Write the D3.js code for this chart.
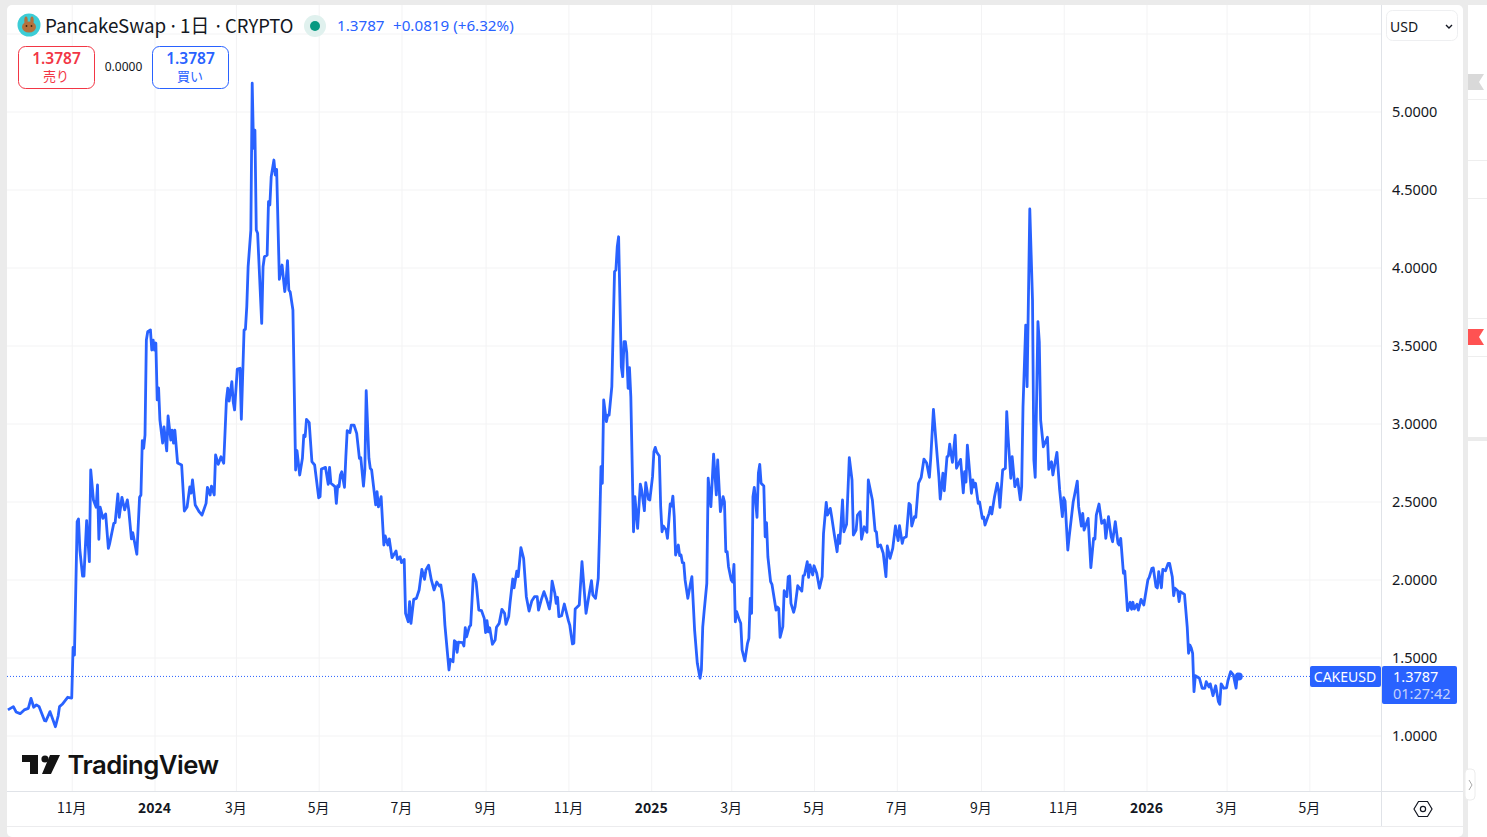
<!DOCTYPE html>
<html>
<head>
<meta charset="utf-8">
<title>CAKEUSD</title>
<script src="https://cdn.jsdelivr.net/npm/d3@7"></script>
<style>
  html, body { margin: 0; padding: 0; background: #fff; overflow: hidden; }
  text { font-family: "Noto Sans", "Noto Sans CJK JP", sans-serif; }
  .cjk { font-family: "Noto Sans CJK JP", sans-serif; }
  .domain { display: none; }
</style>
</head>
<body>
<div id="chart"></div>
<script>
// days counted from 2024-01-01
var priceDays = [
  -108,-104,-102,-99,-96,-93,-91,-89,-87,-85,
  -81,-80,-77,-73,-71,-70,-68,-64,-61,-60,
  -59,-57,-56,-55,-53,-52,-50,-48,-47,-45,
  -43,-42,-41,-40,-38,-36,-34,-33,-30,-29,
  -27,-26,-24,-22,-20,-19,-17,-16,-13,-11,
  -10,-9,-8,-7,-6,-5,-3,-2,-1,0,
  1,2,3,4,6,7,9,10,12,13,
  14,15,17,20,22,24,26,27,28,30,
  33,35,38,39,41,42,44,45,47,49,
  51,53,54,55,57,58,59,61,63,64,
  66,67,68,69,71,72,73,74,75,76,
  79,80,81,83,84,85,86,88,89,90,
  92,94,96,97,98,99,100,102,104,105,
  107,109,110,111,112,114,116,118,121,122,
  123,126,128,129,130,133,134,135,136,137,
  138,140,141,142,144,145,147,149,151,152,
  154,155,156,158,159,160,163,164,165,167,
  169,170,172,173,175,178,179,181,182,184,
  185,187,188,189,191,193,195,197,199,200,
  202,204,206,208,210,211,213,214,217,218,
  220,221,222,223,224,227,228,229,230,232,
  233,235,237,239,241,243,244,245,246,247,
  249,251,252,254,256,258,259,261,262,264,
  265,267,268,270,272,274,276,278,280,282,
  283,285,287,289,291,292,293,295,296,297,
  298,300,302,305,306,308,309,310,313,314,
  315,318,320,322,323,325,327,328,329,330,
  331,333,334,335,337,339,340,341,342,344,
  345,346,347,348,349,350,351,353,354,356,
  358,359,361,362,364,365,367,368,369,370,
  372,373,374,375,377,378,380,381,382,383,
  384,386,387,388,389,390,391,393,395,396,
  398,400,402,403,404,405,407,408,410,412,
  414,415,417,419,420,421,422,423,425,426,
  427,428,429,431,432,433,435,437,438,439,
  440,441,442,444,445,446,447,449,450,451,
  452,454,455,458,459,460,461,463,464,466,
  467,468,469,471,472,474,477,478,479,481,
  482,483,485,486,488,490,492,493,495,496,
  498,499,501,503,504,505,507,508,510,512,
  514,515,517,518,520,521,523,525,526,529,
  531,532,533,535,537,539,540,542,544,546,
  548,549,551,552,554,556,557,558,560,561,
  563,565,567,569,571,572,574,576,578,579,
  581,582,584,585,586,588,590,591,594,596,
  597,598,599,602,603,604,605,607,608,610,
  611,612,615,616,617,619,621,622,623,625,
  627,628,629,631,632,634,636,638,639,640,
  642,643,645,647,648,649,651,652,653,655,
  658,659,661,662,665,667,669,670,671,673,
  674,677,678,680,681,683,684,685,688,690,
  692,693,694,696,698,700,701,703,705,706,
  708,710,711,712,714,715,717,719,720,721,
  722,724,725,727,729,730,732,733,735,736,
  738,739,740,742,743,745,747,748,750,751,
  752,754,755,756,759,761,762,763,764,765,
  766,767,770,772,774,775,777,778,780,782,
  784,785,786,788,790,791,793,795,797,798,
  799
];

var priceCloses = [
  1.164,1.185,1.151,1.140,1.164,1.174,1.238,1.181,1.196,1.185,
  1.095,1.093,1.153,1.056,1.125,1.185,1.200,1.245,1.240,1.565,
  1.516,2.371,2.388,2.189,2.022,2.022,2.377,2.114,2.702,2.510,
  2.463,2.606,2.258,2.463,2.392,2.420,2.200,2.232,2.360,2.364,
  2.548,2.399,2.527,2.446,2.510,2.446,2.260,2.300,2.162,2.527,
  2.542,2.890,2.841,2.926,3.535,3.588,3.600,3.471,3.535,3.471,
  3.516,3.151,3.228,3.022,2.875,2.978,2.824,3.048,2.894,2.958,
  2.875,2.958,2.747,2.734,2.439,2.465,2.593,2.554,2.638,2.478,
  2.433,2.413,2.488,2.591,2.542,2.599,2.542,2.798,2.738,2.787,
  2.745,3.151,3.226,3.144,3.268,3.140,3.087,3.349,3.354,3.027,
  3.599,3.604,3.749,4.005,4.240,5.181,4.764,4.881,4.240,4.219,
  3.642,4.005,4.069,4.080,4.422,4.401,4.582,4.689,4.593,4.629,
  3.924,4.016,3.845,3.920,4.044,3.856,3.843,3.728,2.702,2.826,
  2.670,2.777,2.926,2.915,3.027,3.005,2.755,2.734,2.524,2.531,
  2.708,2.719,2.610,2.719,2.617,2.595,2.488,2.601,2.595,2.670,
  2.691,2.591,2.787,2.954,2.941,2.990,2.990,2.937,2.777,2.781,
  2.599,2.702,3.210,2.777,2.713,2.702,2.478,2.563,2.465,2.531,
  2.221,2.279,2.221,2.260,2.140,2.183,2.129,2.146,2.108,2.129,
  1.783,1.729,1.858,1.719,1.873,1.879,1.933,2.065,2.001,2.061,
  2.091,1.997,1.933,1.984,1.958,1.965,1.851,1.708,1.420,1.488,
  1.473,1.608,1.599,1.533,1.599,1.595,1.574,1.691,1.633,1.697,
  1.708,2.033,1.986,1.804,1.800,1.751,1.659,1.736,1.665,1.691,
  1.585,1.612,1.694,1.719,1.809,1.783,1.713,1.762,1.851,2.003,
  1.947,2.054,2.018,2.204,2.136,1.890,1.798,1.862,1.890,1.890,
  1.804,1.869,1.922,1.873,1.811,1.869,1.990,1.912,1.847,1.886,
  1.762,1.768,1.843,1.736,1.708,1.587,1.591,1.811,1.837,1.976,
  2.114,1.783,1.890,1.992,1.901,1.879,2.008,2.317,2.723,2.617,
  3.151,3.012,3.054,3.054,3.236,3.973,3.984,4.133,4.197,3.364,
  3.300,3.524,3.524,3.452,3.226,3.358,3.172,2.306,2.531,2.328,
  2.612,2.574,2.441,2.621,2.514,2.510,2.659,2.819,2.847,2.817,
  2.792,2.467,2.306,2.343,2.317,2.264,2.484,2.471,2.535,2.403,
  2.157,2.221,2.153,2.157,2.108,2.106,1.997,1.879,1.976,2.018,
  1.676,1.463,1.367,1.420,1.697,1.794,1.976,2.649,2.467,2.804,
  2.542,2.766,2.435,2.531,2.497,2.178,2.178,2.082,1.997,1.984,
  2.097,1.729,1.794,1.740,1.719,1.548,1.478,1.591,1.623,1.879,
  1.783,2.531,2.591,2.399,2.681,2.738,2.617,2.599,2.274,2.364,
  2.146,1.986,1.969,1.804,1.824,1.815,1.629,1.697,1.928,1.890,
  2.018,2.022,1.847,1.790,1.824,1.960,1.926,2.024,2.029,2.114,
  2.014,2.093,2.029,2.088,2.040,1.944,2.018,2.296,2.495,2.413,
  2.456,2.403,2.285,2.178,2.285,2.232,2.510,2.306,2.354,2.781,
  2.638,2.285,2.317,2.413,2.435,2.258,2.338,2.303,2.638,2.510,
  2.313,2.304,2.210,2.221,2.168,2.018,2.215,2.136,2.200,2.343,
  2.249,2.345,2.232,2.266,2.274,2.488,2.478,2.343,2.403,2.399,
  2.617,2.655,2.772,2.747,2.655,2.777,3.091,2.873,2.659,2.516,
  2.681,2.569,2.787,2.792,2.867,2.751,2.926,2.713,2.770,2.556,
  2.691,2.625,2.862,2.553,2.639,2.593,2.617,2.488,2.497,2.392,
  2.401,2.349,2.424,2.463,2.420,2.531,2.617,2.574,2.462,2.702,
  2.713,3.076,2.915,2.649,2.787,2.595,2.644,2.510,2.595,3.108,
  3.631,3.236,4.375,3.792,2.766,2.655,3.653,3.524,3.022,2.851,
  2.912,2.706,2.755,2.670,2.815,2.574,2.403,2.524,2.503,2.189,
  2.271,2.499,2.542,2.631,2.467,2.343,2.424,2.317,2.392,2.076,
  2.264,2.260,2.413,2.484,2.360,2.381,2.264,2.403,2.274,2.242,
  2.371,2.232,2.221,2.264,2.040,2.054,1.800,1.854,1.809,1.854,
  1.811,1.841,1.804,1.873,1.837,1.890,1.997,2.014,2.072,2.074,
  1.954,1.946,2.050,1.947,2.065,2.056,2.104,2.104,2.018,1.896,
  1.944,1.928,1.858,1.922,1.905,1.697,1.527,1.580,1.561,1.527,
  1.281,1.383,1.367,1.303,1.303,1.345,1.311,1.331,1.255,1.319,
  1.217,1.200,1.331,1.303,1.306,1.351,1.409,1.388,1.303,1.394,
  1.3787
];

var priceTicks = [1, 1.5, 2, 2.5, 3, 3.5, 4, 4.5, 5];
var gridOnlyPrices = [5.5];
var timeTicks = ["2023-11-01","2024-01-01","2024-03-01","2024-05-01","2024-07-01","2024-09-01","2024-11-01",
  "2025-01-01","2025-03-01","2025-05-01","2025-07-01","2025-09-01","2025-11-01","2026-01-01","2026-03-01","2026-05-01"];
var timeLabels = ["11月","2024","3月","5月","7月","9月","11月","2025","3月","5月","7月","9月","11月","2026","3月","5月"];
var yearLabels = ["2024","2025","2026"];
var lastPrice = 1.3787;

var svgWidth = 1487;
var svgHeight = 837;
var blue = "#2962ff";
var red = "#f23645";
var gridColor = "#f3f3f4";
var borderColor = "#e0e3e8";
var textColor = "#131722";

var svg = d3.select("#chart")
  .append("svg")
  .attr("width", svgWidth)
  .attr("height", svgHeight)
  .style("display", "block");

var parseDay = d3.utcParse("%Y-%m-%d");
var dayZero = parseDay("2024-01-01");

var xScale = d3.scaleUtc()
  .domain([dayZero, parseDay("2026-01-01")])
  .range([154.5, 1146.5]);

var yScale = d3.scaleLinear()
  .domain([1, 5])
  .range([735.5, 111.5]);

var closes = priceDays.map(function(d, i) {
  return { date: d3.utcDay.offset(dayZero, d), close: priceCloses[i] };
});

// page chrome
svg.append("rect").attr("width", svgWidth).attr("height", svgHeight).attr("fill", "#ebebeb");
svg.append("rect").attr("x", 7).attr("y", 5).attr("width", 1456).attr("height", 832).attr("rx", 5).attr("fill", "#fff");
svg.append("rect").attr("x", 1468).attr("y", 5).attr("width", 19).attr("height", 832).attr("fill", "#fff");

[99, 160, 198, 318, 356].forEach(function(y) {
  svg.append("line").attr("x1", 1468).attr("x2", 1487).attr("y1", y + 0.5).attr("y2", y + 0.5).attr("stroke", "#eeeeee");
});
svg.append("rect").attr("x", 1468).attr("y", 437).attr("width", 19).attr("height", 4).attr("fill", "#ebebeb");
svg.append("path").attr("d", "M1468,74H1484L1479,82L1484,90H1468Z").attr("fill", "#d9d9d9");
svg.append("path").attr("d", "M1468,329H1484L1479,337L1484,345H1468Z").attr("fill", "#ff5252");

// grid
var gridX = d3.axisBottom(xScale)
  .tickValues(timeTicks.map(parseDay))
  .tickSize(786)
  .tickFormat("");
svg.append("g")
  .attr("transform", "translate(0,5)")
  .call(gridX)
  .selectAll("line")
  .attr("stroke", gridColor);

var gridY = d3.axisLeft(yScale)
  .tickValues(priceTicks.concat(gridOnlyPrices))
  .tickSize(1374)
  .tickFormat("");
svg.append("g")
  .attr("transform", "translate(1381,0)")
  .call(gridY)
  .selectAll("line")
  .attr("stroke", gridColor);

// last price dotted line
svg.append("line")
  .attr("x1", 7).attr("x2", 1310)
  .attr("y1", yScale(lastPrice)).attr("y2", yScale(lastPrice))
  .attr("stroke", blue)
  .attr("stroke-width", 1)
  .attr("stroke-dasharray", "1 2");

// price line
var line = d3.line()
  .x(function(d) { return xScale(d.date); })
  .y(function(d) { return yScale(d.close); });

svg.append("path")
  .datum(closes)
  .attr("fill", "none")
  .attr("stroke", blue)
  .attr("stroke-width", 2.8)
  .attr("stroke-linejoin", "round")
  .attr("d", line);

var lastPoint = closes[closes.length - 1];
svg.append("circle")
  .attr("cx", xScale(lastPoint.date))
  .attr("cy", yScale(lastPoint.close))
  .attr("r", 4)
  .attr("fill", blue);

// axis frames
svg.append("line").attr("x1", 1381.5).attr("x2", 1381.5).attr("y1", 5).attr("y2", 826).attr("stroke", borderColor);
svg.append("line").attr("x1", 7).attr("x2", 1463).attr("y1", 791.5).attr("y2", 791.5).attr("stroke", borderColor);
svg.append("line").attr("x1", 7).attr("x2", 1463).attr("y1", 826.5).attr("y2", 826.5).attr("stroke", "#ececee");

// price axis
var rightAxis = d3.axisRight(yScale)
  .tickValues(priceTicks)
  .tickSize(0)
  .tickPadding(10.5)
  .tickFormat(d3.format(".4f"));
var priceAxis = svg.append("g")
  .attr("transform", "translate(1381.5,0.5)")
  .call(rightAxis);
priceAxis.selectAll("text")
  .attr("fill", textColor)
  .style("font-size", "14.5px");

// time axis
var labelByDate = d3.scaleOrdinal().domain(timeTicks).range(timeLabels);
var bottomAxis = d3.axisBottom(xScale)
  .tickValues(timeTicks.map(parseDay))
  .tickSize(0)
  .tickPadding(0)
  .tickFormat(function(d) { return labelByDate(d3.utcFormat("%Y-%m-%d")(d)); });
var timeAxis = svg.append("g")
  .attr("transform", "translate(-0.5,803.5)")
  .call(bottomAxis);
timeAxis.selectAll("text")
  .attr("fill", textColor)
  .attr("class", "cjk")
  .style("font-size", "14px")
  .style("font-weight", function(d, i) { return yearLabels.indexOf(timeLabels[i]) >= 0 ? 700 : 400; });

// header
svg.append("circle").attr("cx", 29).attr("cy", 25).attr("r", 11.5).attr("fill", "#3dcdd6");
svg.append("ellipse").attr("cx", 29).attr("cy", 27).attr("rx", 7).attr("ry", 5.5).attr("fill", "#b5713c");
svg.append("ellipse").attr("cx", 26).attr("cy", 20.5).attr("rx", 1.7).attr("ry", 4).attr("fill", "#b5713c");
svg.append("ellipse").attr("cx", 32).attr("cy", 20.5).attr("rx", 1.7).attr("ry", 4).attr("fill", "#b5713c");
svg.append("circle").attr("cx", 26.5).attr("cy", 26).attr("r", 0.9).attr("fill", "#3a2410");
svg.append("circle").attr("cx", 31.5).attr("cy", 26).attr("r", 0.9).attr("fill", "#3a2410");

var titleParts = [
  { x: 45, label: "PancakeSwap", size: 18.8 },
  { x: 168, label: "·", size: 18.8 },
  { x: 180, label: "1日", size: 18.8 },
  { x: 213, label: "·", size: 18.8 },
  { x: 225, label: "CRYPTO", size: 18.4 }
];
svg.selectAll(".title-part")
  .data(titleParts)
  .enter()
  .append("text")
  .attr("class", "cjk title-part")
  .attr("x", function(d) { return d.x; })
  .attr("y", 33)
  .attr("fill", textColor)
  .style("font-size", function(d) { return d.size + "px"; })
  .text(function(d) { return d.label; });

svg.append("circle").attr("cx", 315).attr("cy", 26).attr("r", 11).attr("fill", "#e0f1ee");
svg.append("circle").attr("cx", 315).attr("cy", 26).attr("r", 5).attr("fill", "#089981");

svg.append("text")
  .attr("x", 337).attr("y", 31)
  .attr("fill", blue)
  .style("font-size", "15.2px")
  .text("1.3787");
svg.append("text")
  .attr("x", 393).attr("y", 31)
  .attr("fill", blue)
  .style("font-size", "15.2px")
  .text("+0.0819 (+6.32%)");

// sell and buy boxes
function tradeBox(left, color, price, label) {
  svg.append("rect")
    .attr("x", left + 0.5).attr("y", 46.5)
    .attr("width", 76).attr("height", 42).attr("rx", 7)
    .attr("fill", "#fff").attr("stroke", color);
  svg.append("text")
    .attr("x", left + 38.5).attr("y", 64)
    .attr("text-anchor", "middle")
    .attr("fill", color)
    .style("font-size", "15.5px")
    .style("font-weight", 600)
    .text(price);
  svg.append("text")
    .attr("x", left + 38).attr("y", 81)
    .attr("text-anchor", "middle")
    .attr("class", "cjk")
    .attr("fill", color)
    .style("font-size", "13px")
    .text(label);
}
tradeBox(18, red, "1.3787", "売り");
tradeBox(152, blue, "1.3787", "買い");
svg.append("text")
  .attr("x", 123.5).attr("y", 71)
  .attr("text-anchor", "middle")
  .attr("fill", textColor)
  .style("font-size", "12px")
  .text("0.0000");

// currency select
svg.append("rect")
  .attr("x", 1386.5).attr("y", 10.5)
  .attr("width", 71).attr("height", 30).attr("rx", 6)
  .attr("fill", "#fff").attr("stroke", "#eeeff1");
svg.append("text")
  .attr("x", 1390).attr("y", 32)
  .attr("fill", textColor)
  .style("font-size", "14px")
  .text("USD");
svg.append("path")
  .attr("d", "M1446,25L1449,28L1452,25")
  .attr("fill", "none")
  .attr("stroke", textColor)
  .attr("stroke-width", 1.4);

// last price labels
svg.append("rect").attr("x", 1310).attr("y", 666).attr("width", 71).attr("height", 21).attr("rx", 2).attr("fill", blue);
svg.append("text")
  .attr("x", 1345).attr("y", 682)
  .attr("text-anchor", "middle")
  .attr("fill", "#fff")
  .style("font-size", "14px")
  .text("CAKEUSD");
svg.append("rect").attr("x", 1382).attr("y", 666).attr("width", 75).attr("height", 38).attr("rx", 2).attr("fill", blue);
svg.append("text")
  .attr("x", 1393).attr("y", 682)
  .attr("fill", "#fff")
  .style("font-size", "14.5px")
  .text(d3.format(".4f")(lastPrice));
svg.append("text")
  .attr("x", 1393).attr("y", 699)
  .attr("fill", "#c3d1fb")
  .style("font-size", "14.5px")
  .text("01:27:42");

// settings icon and side handle
svg.append("path")
  .attr("d", "M1414,809L1418.5,801.5H1427.5L1432,809L1427.5,816.5H1418.5Z")
  .attr("fill", "none").attr("stroke", textColor).attr("stroke-width", 1.2);
svg.append("circle").attr("cx", 1423).attr("cy", 809).attr("r", 2.6)
  .attr("fill", "none").attr("stroke", textColor).attr("stroke-width", 1.2);
svg.append("rect").attr("x", 1465).attr("y", 769).attr("width", 10).attr("height", 31).attr("rx", 4)
  .attr("fill", "#fff").attr("stroke", "#ececec");
svg.append("path").attr("d", "M1469,780L1472,785L1469,790").attr("fill", "none").attr("stroke", "#a8a8a8");

// logo
svg.append("path")
  .attr("d", "M22,755H38V774H30V762H22Z M50,755H60L51,774H42Z")
  .attr("fill", "#131313");
svg.append("circle").attr("cx", 45).attr("cy", 759).attr("r", 3.6).attr("fill", "#131313");
svg.append("text")
  .attr("x", 67.5).attr("y", 774)
  .attr("fill", "#131313")
  .style("font-family", "Inter, sans-serif")
  .style("font-size", "25.7px")
  .style("font-weight", 600)
  .style("letter-spacing", "-0.5px")
  .text("TradingView");
</script>
</body>
</html>
